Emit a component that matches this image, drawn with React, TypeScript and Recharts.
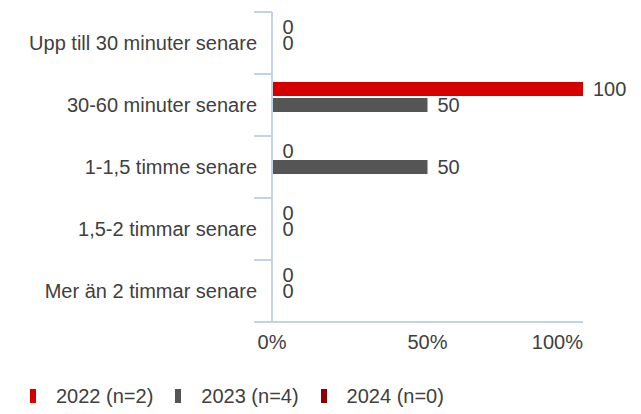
import React from "react";
import {
  BarChart, Bar, XAxis, YAxis, Legend, LabelList
} from "recharts";

const categories = [
  "Upp till 30 minuter senare",
  "30-60 minuter senare",
  "1-1,5 timme senare",
  "1,5-2 timmar senare",
  "Mer än 2 timmar senare",
];
const values2022 = [0, 100, 0, 0, 0];
const values2023 = [0, 50, 50, 0, 0];
const values2024: (number | null)[] = [null, null, null, null, null];
const xTicks = [0, 50, 100];

// boundary tick positions between category bands (helper axis, domain 0..n-1)
const gridMax = categories.length - 1;
const boundaryTicks = [0, 1, 2, 3, 4, 5].map((k) => (k * gridMax) / categories.length);

const series = [
  { key: "y2022", name: "2022 (n=2)", color: "#d40000" },
  { key: "y2023", name: "2023 (n=4)", color: "#555555" },
  { key: "y2024", name: "2024 (n=0)", color: "#8b0000" },
];

const data = categories.map((cat, i) => ({
  cat,
  y2022: values2022[i],
  y2023: values2023[i],
  y2024: values2024[i],
}));

const FONT = "'Liberation Sans', Arial, sans-serif";
const TEXT = "#404040";
const AXIS = "#c2d3e8";

const XTick = (props: any) => {
  const { x, y, payload } = props;
  const last = payload.value === xTicks[xTicks.length - 1];
  return (
    <text x={x} y={y} dy="0.71em" textAnchor={last ? "end" : "middle"}
      fill={TEXT} fontSize={20} fontFamily={FONT}>
      {payload.value}%
    </text>
  );
};

const NoLabel = () => <g />;

const renderLegend = () => (
  <div style={{ display: "flex", height: 20, alignItems: "center", fontFamily: FONT, fontSize: 20, color: TEXT }}>
    {series.map((s) => (
      <div key={s.key} style={{ display: "flex", alignItems: "center", marginRight: 22 }}>
        <span style={{ display: "inline-block", width: 6, height: 14, background: s.color, marginRight: 20 }} />
        <span>{s.name}</span>
      </div>
    ))}
  </div>
);

export default function App() {
  return (
    <div style={{ width: 625, height: 406 }}>
      <BarChart
        width={625}
        height={406}
        data={data}
        layout="vertical"
        barSize={14}
        barGap={2}
        margin={{ top: 4, right: 50, bottom: 42, left: 0 }}
      >
        <XAxis
          type="number"
          domain={[0, 100]}
          ticks={xTicks}
          tickLine={false}
          tickSize={0}
          tickMargin={13}
          height={30}
          axisLine={{ stroke: AXIS, strokeWidth: 2 }}
          tick={<XTick />}
        />
        <YAxis
          yAxisId="a_grid"
          type="number"
          domain={[0, gridMax]}
          ticks={boundaryTicks}
          allowDataOverflow
          interval={0}
          width={18}
          tickSize={18}
          tick={<NoLabel />}
          axisLine={{ stroke: AXIS, strokeWidth: 2 }}
          tickLine={{ stroke: AXIS, strokeWidth: 2 }}
        />
        <YAxis
          yAxisId="b_cat"
          type="category"
          dataKey="cat"
          width={246}
          axisLine={false}
          tickLine={false}
          tickSize={0}
          tickMargin={-3}
          tick={{ fill: TEXT, fontSize: 20, fontFamily: FONT }}
        />
        <Legend
          verticalAlign="bottom"
          align="left"
          content={renderLegend}
          wrapperStyle={{ left: 22, bottom: 8 }}
        />
        {series.map((s) => (
          <Bar key={s.key} yAxisId="b_cat" dataKey={s.key} name={s.name} fill={s.color}
            minPointSize={s.key === "y2024" ? 0 : 0.5} isAnimationActive={false}>
            {s.key !== "y2024" && (
              <LabelList dataKey={s.key} position="right" offset={10}
                fill={TEXT} fontSize={20} fontFamily={FONT} />
            )}
          </Bar>
        ))}
      </BarChart>
    </div>
  );
}
